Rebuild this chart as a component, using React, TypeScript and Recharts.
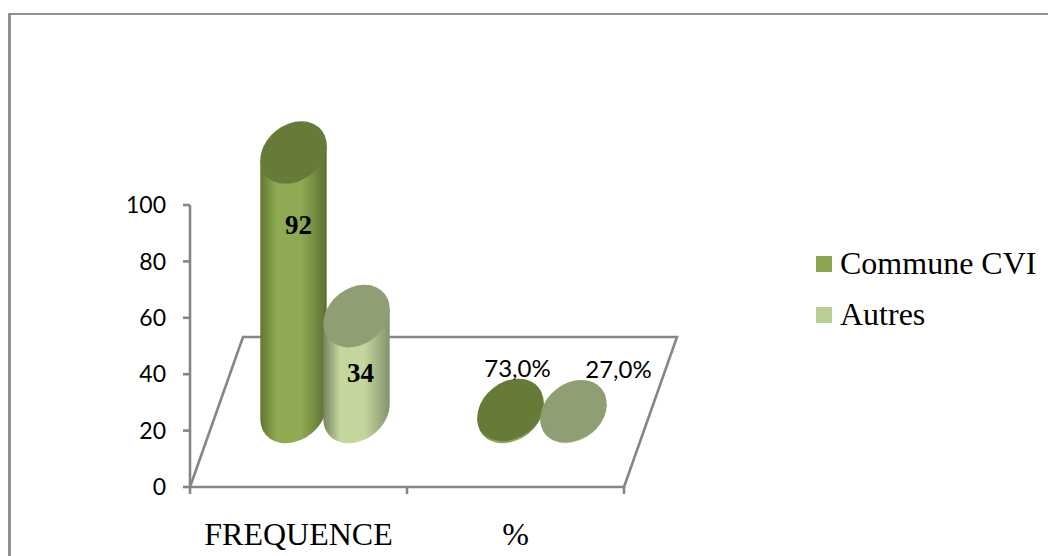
import React from 'react';
import { BarChart, Bar, XAxis, YAxis, LabelList, Legend, Customized } from 'recharts';

const categories = ['FREQUENCE', '%'];
const communeValues = [92, 0.73];
const autresValues = [34, 0.27];
const yTicks = [0, 20, 40, 60, 80, 100];

const data = categories.map((name, i) => ({
  name,
  commune: communeValues[i],
  autres: autresValues[i],
}));

const AXIS_GREY = '#868686';
const AXIS_WIDTH = 2.6;
const SERIF = '"Liberation Serif", serif';
const SANS = 'Lato, sans-serif';

// the floor of the fake 3D box, bars stand halfway into it
const DEPTH_X = 53;
const DEPTH_Y = -150;
const PLOT_LEFT = 190;
const PLOT_RIGHT = 624;
const PLOT_BOTTOM = 487;
const X_TICK_LENGTH = 7;

// cap of a cylinder: tilted ellipse
const CAP_RX = 36;
const CAP_RY = 28;
const CAP_ANGLE = -38;

const seriesStyles = {
  commune: { gradient: 'communeSide', cap: '#667B38', legend: '#8CA64F' },
  autres: { gradient: 'autresSide', cap: '#8F9F73', legend: '#B9CF96' },
};

// label nudges from the middle of each cap, one per category
const labelNudges = {
  commune: [{ dx: 5, dy: 72 }, { dx: 7, dy: -42 }],
  autres: [{ dx: 4, dy: 57 }, { dx: 45, dy: -43 }],
};

function Cylinder(props: any) {
  const { x, y, width, height, series } = props;
  const style = seriesStyles[series as keyof typeof seriesStyles];
  const cx = x + width / 2 + DEPTH_X / 2;
  const capY = y + DEPTH_Y / 2;
  const baseY = y + height + DEPTH_Y / 2;

  // horizontal extremes of the rotated ellipse, where the side walls touch it
  const rad = (CAP_ANGLE * Math.PI) / 180;
  const t = Math.atan2(-CAP_RY * Math.sin(rad), CAP_RX * Math.cos(rad));
  const ex = CAP_RX * Math.cos(t) * Math.cos(rad) - CAP_RY * Math.sin(t) * Math.sin(rad);
  const ey = CAP_RX * Math.cos(t) * Math.sin(rad) + CAP_RY * Math.sin(t) * Math.cos(rad);
  const rightX = cx + Math.abs(ex);
  const leftX = cx - Math.abs(ex);
  const rightDy = ex > 0 ? ey : -ey;

  const side =
    `M${leftX},${capY - rightDy} L${leftX},${baseY - rightDy} ` +
    `A${CAP_RX},${CAP_RY} ${CAP_ANGLE} 0 0 ${rightX},${baseY + rightDy} ` +
    `L${rightX},${capY + rightDy} Z`;

  return (
    <g>
      <path d={side} fill={`url(#${style.gradient})`} />
      <ellipse
        cx={cx}
        cy={capY}
        rx={CAP_RX}
        ry={CAP_RY}
        fill={style.cap}
        transform={`rotate(${CAP_ANGLE} ${cx} ${capY})`}
      />
    </g>
  );
}

function formatLabel(value: number) {
  if (value < 1) return (value * 100).toFixed(1).replace('.', ',') + '%';
  return String(value);
}

function CylinderLabel(props: any) {
  const { x, y, width, value, index, series } = props;
  const nudge = labelNudges[series as keyof typeof labelNudges][index];
  const cx = x + width / 2 + DEPTH_X / 2 + nudge.dx;
  const cy = y + DEPTH_Y / 2 + nudge.dy;
  const isCount = value >= 1;
  return (
    <text
      x={cx}
      y={cy}
      textAnchor="middle"
      dominantBaseline="central"
      fill="#000"
      fontFamily={isCount ? SERIF : SANS}
      fontWeight={isCount ? 700 : 400}
      fontSize={isCount ? 27 : 24}
    >
      {formatLabel(value)}
    </text>
  );
}

function Floor() {
  const points = [
    [PLOT_LEFT, PLOT_BOTTOM],
    [PLOT_LEFT + DEPTH_X, PLOT_BOTTOM + DEPTH_Y],
    [PLOT_RIGHT + DEPTH_X, PLOT_BOTTOM + DEPTH_Y],
    [PLOT_RIGHT, PLOT_BOTTOM],
  ];
  return (
    <polyline
      points={points.map(p => p.join(',')).join(' ')}
      fill="none"
      stroke={AXIS_GREY}
      strokeWidth={AXIS_WIDTH}
    />
  );
}

// x ticks sit on the category boundaries, the label stays in the middle
function CategoryTick(props: any) {
  const { x, y, payload, index } = props;
  const half = (PLOT_RIGHT - PLOT_LEFT) / categories.length / 2;
  const edges = index === 0 ? [x - half, x + half] : [x + half];
  return (
    <g>
      {edges.map(edge => (
        <line
          key={edge}
          x1={edge}
          x2={edge}
          y1={PLOT_BOTTOM}
          y2={PLOT_BOTTOM + X_TICK_LENGTH}
          stroke={AXIS_GREY}
          strokeWidth={AXIS_WIDTH}
        />
      ))}
      <text x={x} y={y + 39} textAnchor="middle" dominantBaseline="central" fill="#000" fontFamily={SERIF} fontSize={32}>
        {payload.value}
      </text>
    </g>
  );
}

function LegendBox() {
  const rows = [
    { label: 'Commune CVI', color: seriesStyles.commune.legend },
    { label: 'Autres', color: seriesStyles.autres.legend },
  ];
  return (
    <div>
      {rows.map(row => (
        <div key={row.label} style={{ display: 'flex', alignItems: 'center', height: 51 }}>
          <span style={{ width: 16, height: 16, background: row.color, marginRight: 8 }} />
          <span style={{ fontFamily: SERIF, fontSize: 32, color: '#000', lineHeight: '51px', whiteSpace: 'nowrap' }}>
            {row.label}
          </span>
        </div>
      ))}
    </div>
  );
}

function SideGradient({ id, edge, mid, right }: { id: string; edge: string; mid: string; right: string }) {
  return (
    <linearGradient id={id} x1="0" y1="0" x2="1" y2="0">
      <stop offset="0%" stopColor={edge} />
      <stop offset="25%" stopColor={mid} />
      <stop offset="62%" stopColor={mid} />
      <stop offset="100%" stopColor={right} />
    </linearGradient>
  );
}

export default function App() {
  return (
    <div style={{ position: 'fixed', left: 0, top: 0, width: 1048, height: 556, background: '#fff', overflow: 'hidden' }}>
      {/* chart frame, only top and left edges fall inside the page */}
      <div
        style={{
          position: 'absolute',
          left: 8,
          top: 13,
          width: 1048,
          height: 600,
          borderLeft: '3px solid #8f8f8f',
          borderTop: '2px solid #8f8f8f',
        }}
      />
      <BarChart
        width={1048}
        height={556}
        data={data}
        margin={{ top: 205, right: 424, bottom: 9, left: 130 }}
        barSize={66}
        barGap={-3}
        style={{ position: 'absolute', left: 0, top: 0 }}
      >
        <defs>
          <SideGradient id="communeSide" edge="#62782F" mid="#8EAA52" right="#5C7030" />
          <SideGradient id="autresSide" edge="#75845F" mid="#C3D69B" right="#84936C" />
        </defs>
        <Customized component={Floor} />
        <XAxis
          dataKey="name"
          height={60}
          axisLine={{ stroke: AXIS_GREY, strokeWidth: AXIS_WIDTH }}
          tickLine={false}
          tick={<CategoryTick />}
          interval={0}
        />
        <YAxis
          width={60}
          domain={[0, 100]}
          ticks={yTicks}
          axisLine={{ stroke: AXIS_GREY, strokeWidth: AXIS_WIDTH }}
          tickLine={{ stroke: AXIS_GREY, strokeWidth: AXIS_WIDTH }}
          tickSize={7}
          tickMargin={17}
          tick={{ fill: '#000', fontFamily: SANS, fontSize: 23 }}
        />
        {/* centred + vertical keeps the legend from eating into the plot margins */}
        <Legend
          layout="vertical"
          align="center"
          verticalAlign="middle"
          wrapperStyle={{ left: 816, top: 238, width: 232 }}
          content={<LegendBox />}
        />
        <Bar dataKey="commune" isAnimationActive={false} shape={<Cylinder series="commune" />}>
          <LabelList dataKey="commune" content={<CylinderLabel series="commune" />} />
        </Bar>
        <Bar dataKey="autres" isAnimationActive={false} shape={<Cylinder series="autres" />}>
          <LabelList dataKey="autres" content={<CylinderLabel series="autres" />} />
        </Bar>
      </BarChart>
    </div>
  );
}
